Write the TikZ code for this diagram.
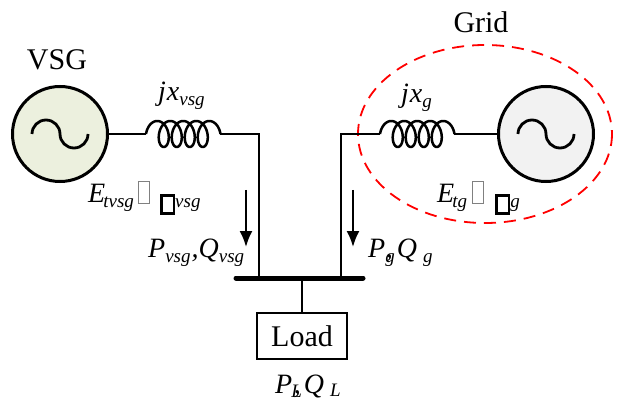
\documentclass[tikz,border=0pt]{standalone}
\usepackage{fontspec}
\setmainfont{Liberation Serif}
\usetikzlibrary{arrows.meta,calc}
\definecolor{vsgfill}{RGB}{236,240,222}
\definecolor{gridfill}{RGB}{242,242,242}

% lowered subscript, and the two boxes printed in place of the missing glyphs
\newcommand{\lo}[1]{\raisebox{-4.5pt}{\fontsize{19}{19}\selectfont\itshape #1}}
\newcommand{\gbox}{{\color{gray}\setlength{\fboxrule}{0.8pt}\setlength{\fboxsep}{0pt}\fbox{\rule{0pt}{21pt}\hspace{10.5pt}}}}
\newcommand{\bbox}{{\setlength{\fboxrule}{2.6pt}\setlength{\fboxsep}{0pt}\raisebox{-9pt}{\fbox{\rule{0pt}{15pt}\hspace{10pt}}}}}

\tikzset{
  wire/.style={line width=2.5pt},
  gen/.style={circle,draw,line width=3pt,minimum size=95pt,inner sep=0pt},
  txt/.style={inner sep=0pt,font=\fontsize{30}{32}\selectfont},
  lbl/.style={anchor=base west,inner sep=0pt,font=\fontsize{28}{30}\selectfont\itshape},
  flow/.style={line width=2pt,-{Latex[length=16pt,width=13pt]}},
  sine/.pic={\draw[line width=2.8pt] (-28,0) arc[start angle=180,end angle=360,radius=14]
                                      arc[start angle=180,end angle=0,radius=14];},
  coil/.pic={\draw[wire,line join=round] plot[domain=-90:1530,samples=400,variable=\u]
               ({(\u+90)/360*13+8*sin(\u)+8},{-13*cos(\u)});}
}

\begin{document}
\begin{tikzpicture}[x=1pt,y=-1pt]
  \useasboundingbox (0,0) rectangle (619,401);

  % sources
  \node[gen,fill=vsgfill] at (60,134) (vsg) {};
  \node[gen,fill=gridfill] at (546,134) (grid) {};
  \pic at (vsg.center) {sine};
  \pic at (grid.center) {sine};
  \node[txt] at (57,60) (vsgname) {VSG};
  \node[txt] at (481,22) (gridname) {Grid};

  % grid boundary
  \draw[red,line width=1.8pt,dash pattern=on 12pt off 8pt] (485,134) ellipse [x radius=127,y radius=89];

  % line reactances
  \coordinate (Lv-in) at (146,134);
  \coordinate (Lv-out) at (220,134);
  \coordinate (Lg-in) at (380,134);
  \coordinate (Lg-out) at (454,134);
  \pic at (Lv-in) {coil};
  \pic at (Lg-in) {coil};

  % bus and load
  \coordinate (bus-w) at (236,278);
  \coordinate (bus-e) at (363,278);
  \coordinate (bus-l) at (259,278);
  \coordinate (bus-r) at (341,278);
  \coordinate (bus-m) at (302,278);
  \node[draw,line width=2.2pt,minimum width=90pt,minimum height=46pt,txt] at (302,336) (load) {Load};

  \draw[wire] (vsg) -- (Lv-in);
  \draw[wire] (Lv-out) -| (bus-l);
  \draw[wire] (Lg-out) -- (grid);
  \draw[wire] (Lg-in) -| (bus-r);
  \draw[line width=5pt,line cap=round] (bus-w) -- (bus-e);
  \draw[wire] (bus-m) -- (load);

  % power flow arrows
  \coordinate (fv-s) at (246,190);
  \coordinate (fv-e) at (246,247);
  \coordinate (fg-s) at (353,190);
  \coordinate (fg-e) at (353,247);
  \draw[flow] (fv-s) -- (fv-e);
  \draw[flow] (fg-s) -- (fg-e);

  % labels
  \node[lbl] at (158,101) (xvsg) {j\kern1pt x\lo{vsg}};
  \node[lbl] at (401,103) (xg) {j\kern1pt x\lo{g}};
  \node[lbl] at (88,203) (Evsg) {E\kern-2pt\lo{tvsg}\kern4pt\gbox\hspace{10pt}\bbox\lo{vsg}};
  \node[lbl] at (437,203) (Eg) {E\kern-2pt\lo{tg}\kern5pt\gbox\hspace{11pt}\bbox\lo{g}};
  \node[lbl] at (148,258) (PQvsg) {P\lo{vsg}\kern1pt,Q\lo{vsg}};
  \node[lbl] at (368,258) (PQg) {P\lo{g}\kern-9pt,\kern4pt Q\hspace{6pt}\lo{g}};
  \node[lbl] at (275,393) (PQL) {P\kern-1pt\lo{L}\kern-8pt,\kern3pt Q\hspace{6pt}\raisebox{1pt}{\lo{L}}};

\end{tikzpicture}
\end{document}
